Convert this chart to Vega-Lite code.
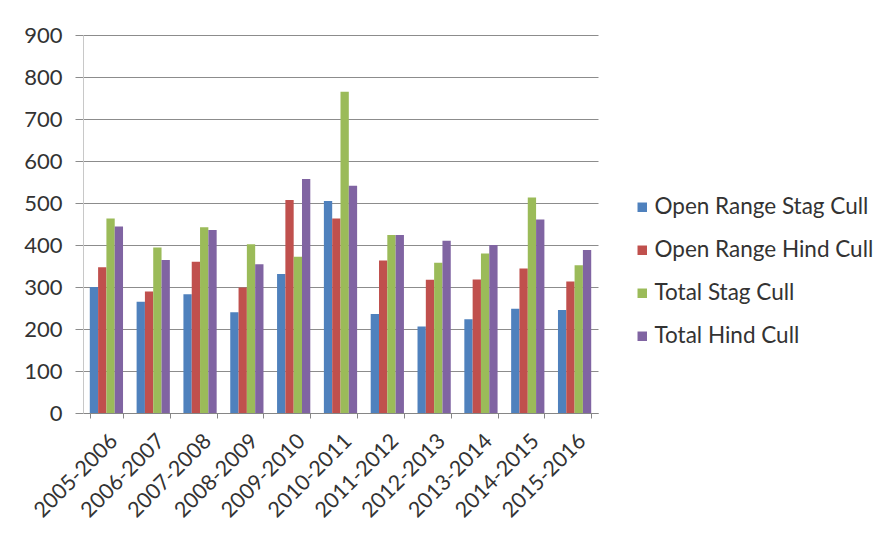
{
  "$schema": "https://vega.github.io/schema/vega-lite/v6.json",
  "width": 515,
  "height": 378,
  "autosize": {"type": "none"},
  "padding": {"left": 83, "top": 35, "right": 291, "bottom": 128},
  "background": "white",
  "data": {
    "values": [
      {"season": "2005-2006", "series": "Open Range Stag Cull", "value": 300},
      {"season": "2005-2006", "series": "Open Range Hind Cull", "value": 347},
      {"season": "2005-2006", "series": "Total Stag Cull", "value": 463},
      {"season": "2005-2006", "series": "Total Hind Cull", "value": 444},
      {"season": "2006-2007", "series": "Open Range Stag Cull", "value": 265},
      {"season": "2006-2007", "series": "Open Range Hind Cull", "value": 289},
      {"season": "2006-2007", "series": "Total Stag Cull", "value": 394},
      {"season": "2006-2007", "series": "Total Hind Cull", "value": 364},
      {"season": "2007-2008", "series": "Open Range Stag Cull", "value": 283},
      {"season": "2007-2008", "series": "Open Range Hind Cull", "value": 360},
      {"season": "2007-2008", "series": "Total Stag Cull", "value": 442},
      {"season": "2007-2008", "series": "Total Hind Cull", "value": 436},
      {"season": "2008-2009", "series": "Open Range Stag Cull", "value": 240},
      {"season": "2008-2009", "series": "Open Range Hind Cull", "value": 299},
      {"season": "2008-2009", "series": "Total Stag Cull", "value": 402},
      {"season": "2008-2009", "series": "Total Hind Cull", "value": 354},
      {"season": "2009-2010", "series": "Open Range Stag Cull", "value": 331},
      {"season": "2009-2010", "series": "Open Range Hind Cull", "value": 507},
      {"season": "2009-2010", "series": "Total Stag Cull", "value": 372},
      {"season": "2009-2010", "series": "Total Hind Cull", "value": 557},
      {"season": "2010-2011", "series": "Open Range Stag Cull", "value": 505},
      {"season": "2010-2011", "series": "Open Range Hind Cull", "value": 463},
      {"season": "2010-2011", "series": "Total Stag Cull", "value": 765},
      {"season": "2010-2011", "series": "Total Hind Cull", "value": 541},
      {"season": "2011-2012", "series": "Open Range Stag Cull", "value": 236},
      {"season": "2011-2012", "series": "Open Range Hind Cull", "value": 363},
      {"season": "2011-2012", "series": "Total Stag Cull", "value": 424},
      {"season": "2011-2012", "series": "Total Hind Cull", "value": 424},
      {"season": "2012-2013", "series": "Open Range Stag Cull", "value": 206},
      {"season": "2012-2013", "series": "Open Range Hind Cull", "value": 317},
      {"season": "2012-2013", "series": "Total Stag Cull", "value": 358},
      {"season": "2012-2013", "series": "Total Hind Cull", "value": 410},
      {"season": "2013-2014", "series": "Open Range Stag Cull", "value": 223},
      {"season": "2013-2014", "series": "Open Range Hind Cull", "value": 318},
      {"season": "2013-2014", "series": "Total Stag Cull", "value": 380},
      {"season": "2013-2014", "series": "Total Hind Cull", "value": 400},
      {"season": "2014-2015", "series": "Open Range Stag Cull", "value": 248},
      {"season": "2014-2015", "series": "Open Range Hind Cull", "value": 344},
      {"season": "2014-2015", "series": "Total Stag Cull", "value": 513},
      {"season": "2014-2015", "series": "Total Hind Cull", "value": 461},
      {"season": "2015-2016", "series": "Open Range Stag Cull", "value": 245},
      {"season": "2015-2016", "series": "Open Range Hind Cull", "value": 313},
      {"season": "2015-2016", "series": "Total Stag Cull", "value": 352},
      {"season": "2015-2016", "series": "Total Hind Cull", "value": 388}
    ]
  },
  "mark": {"type": "bar"},
  "encoding": {
    "x": {
      "field": "season",
      "type": "nominal",
      "sort": null,
      "title": null,
      "scale": {"paddingInner": 0.29, "paddingOuter": 0.145},
      "axis": {
        "labelAngle": -45,
        "tickBand": "extent",
        "domainColor": "#868686",
        "tickColor": "#868686",
        "tickSize": 5,
        "labelFontSize": 21.5,
        "labelColor": "#333333",
        "labelPadding": 12,
        "labelDx": -8
      }
    },
    "xOffset": {
      "field": "series",
      "sort": ["Open Range Stag Cull", "Open Range Hind Cull", "Total Stag Cull", "Total Hind Cull"]
    },
    "y": {
      "field": "value",
      "type": "quantitative",
      "title": null,
      "scale": {"domain": [0, 900], "nice": false},
      "axis": {
        "values": [0, 100, 200, 300, 400, 500, 600, 700, 800, 900],
        "gridColor": "#8c8c8c",
        "domainColor": "#c8c8c8",
        "tickColor": "#8c8c8c",
        "tickSize": 8,
        "labelPadding": 13,
        "labelFontSize": 22,
        "labelColor": "#333333"
      }
    },
    "color": {
      "field": "series",
      "type": "nominal",
      "scale": {
        "domain": ["Open Range Stag Cull", "Open Range Hind Cull", "Total Stag Cull", "Total Hind Cull"],
        "range": ["#4f81bd", "#c0504d", "#9bbb59", "#8064a2"]
      },
      "legend": {
        "title": null,
        "orient": "none",
        "legendX": 548,
        "legendY": 161,
        "padding": 0,
        "symbolType": "square",
        "symbolSize": 90,
        "symbolStrokeWidth": 0,
        "labelFontSize": 22.5,
        "labelColor": "#333333",
        "labelOffset": 1,
        "labelLimit": 320,
        "rowPadding": 20
      }
    }
  },
  "config": {
    "view": {"stroke": null},
    "font": "Lato"
  }
}
